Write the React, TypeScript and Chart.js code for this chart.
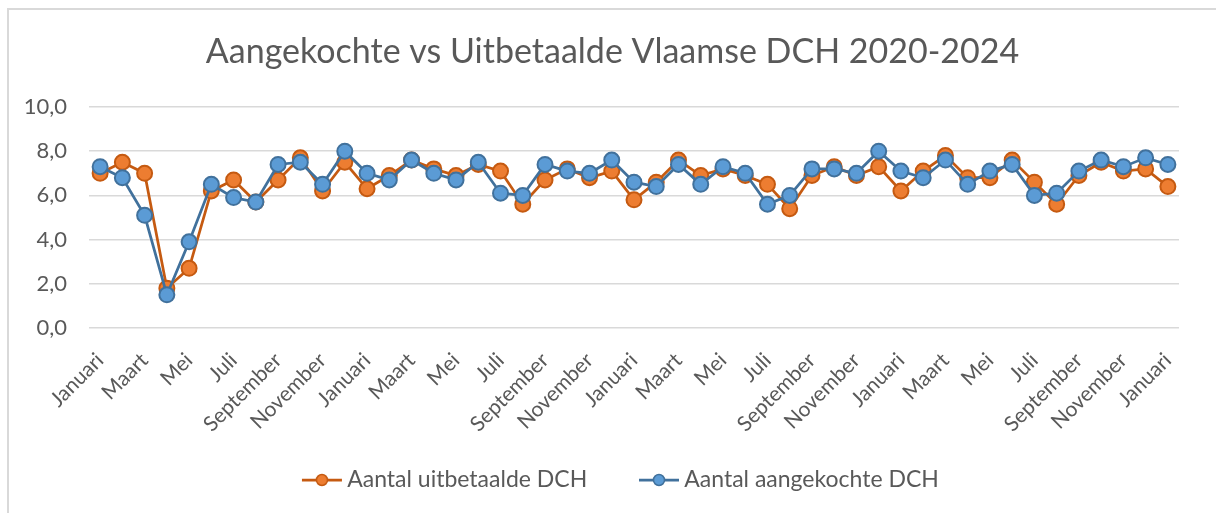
import React, { useEffect, useRef } from "react";
import { Chart, registerables } from "chart.js";

Chart.register(...registerables);

const MONTHS = [
  "Januari", "Februari", "Maart", "April", "Mei", "Juni",
  "Juli", "Augustus", "September", "Oktober", "November", "December",
];

const labels: string[] = [
  ...MONTHS, ...MONTHS, ...MONTHS, ...MONTHS, "Januari",
];

const uitbetaald: number[] = [
  7.0, 7.5, 7.0, 1.8, 2.7, 6.2, 6.7, 5.7, 6.7, 7.7, 6.2, 7.5,
  6.3, 6.9, 7.6, 7.2, 6.9, 7.4, 7.1, 5.6, 6.7, 7.2, 6.8, 7.1,
  5.8, 6.6, 7.6, 6.9, 7.2, 6.9, 6.5, 5.4, 6.9, 7.3, 6.9, 7.3,
  6.2, 7.1, 7.8, 6.8, 6.8, 7.6, 6.6, 5.6, 6.9, 7.5, 7.1, 7.2,
  6.4,
];

const aangekocht: number[] = [
  7.3, 6.8, 5.1, 1.5, 3.9, 6.5, 5.9, 5.7, 7.4, 7.5, 6.5, 8.0,
  7.0, 6.7, 7.6, 7.0, 6.7, 7.5, 6.1, 6.0, 7.4, 7.1, 7.0, 7.6,
  6.6, 6.4, 7.4, 6.5, 7.3, 7.0, 5.6, 6.0, 7.2, 7.2, 7.0, 8.0,
  7.1, 6.8, 7.6, 6.5, 7.1, 7.4, 6.0, 6.1, 7.1, 7.6, 7.3, 7.7,
  7.4,
];

const TITLE = "Aangekochte vs Uitbetaalde Vlaamse DCH 2020-2024";
const SERIES_UIT = "Aantal uitbetaalde DCH";
const SERIES_AAN = "Aantal aangekochte DCH";

const ORANGE_FILL = "#ED7D31";
const ORANGE_LINE = "#C55A11";
const BLUE_FILL = "#5B9BD5";
const BLUE_LINE = "#41719C";
const TEXT = "#595959";
const GRID = "#D9D9D9";
const FONT = "Lato, 'Open Sans', sans-serif";

// legend swatch: 66px wide image, the line+marker occupies x 24..64
function legendImage(line: string, fill: string): HTMLCanvasElement {
  const c = document.createElement("canvas");
  c.width = 66;
  c.height = 16;
  const ctx = c.getContext("2d")!;
  const x0 = 24;
  ctx.strokeStyle = line;
  ctx.lineWidth = 2.75;
  ctx.beginPath();
  ctx.moveTo(x0, 8);
  ctx.lineTo(x0 + 40, 8);
  ctx.stroke();
  ctx.beginPath();
  ctx.arc(x0 + 20, 8, 5.5, 0, Math.PI * 2);
  ctx.fillStyle = fill;
  ctx.fill();
  ctx.lineWidth = 1.5;
  ctx.stroke();
  return c;
}

export default function App() {
  const ref = useRef<HTMLCanvasElement | null>(null);

  useEffect(() => {
    if (!ref.current) return;
    const imgOrange = legendImage(ORANGE_LINE, ORANGE_FILL);
    const imgBlue = legendImage(BLUE_LINE, BLUE_FILL);

    const chart = new Chart(ref.current, {
      type: "line",
      data: {
        labels,
        datasets: [
          {
            label: SERIES_AAN,
            data: aangekocht,
            borderColor: BLUE_LINE,
            backgroundColor: BLUE_FILL,
            pointBackgroundColor: BLUE_FILL,
            pointBorderColor: BLUE_LINE,
            borderWidth: 2.75,
            pointRadius: 7.5,
            pointBorderWidth: 2,
            tension: 0,
          },
          {
            label: SERIES_UIT,
            data: uitbetaald,
            borderColor: ORANGE_LINE,
            backgroundColor: ORANGE_FILL,
            pointBackgroundColor: ORANGE_FILL,
            pointBorderColor: ORANGE_LINE,
            borderWidth: 2.75,
            pointRadius: 7.5,
            pointBorderWidth: 2,
            tension: 0,
          },
        ],
      },
      options: {
        animation: false,
        responsive: true,
        maintainAspectRatio: false,
        layout: { padding: { left: 0, right: 0, top: 0, bottom: 11.5 } },
        plugins: {
          tooltip: { enabled: false },
          title: {
            display: true,
            text: TITLE,
            color: TEXT,
            font: { family: FONT, size: 34, weight: "normal", lineHeight: 1.2 },
            padding: { top: 22, bottom: 34.2 },
          },
          legend: {
            position: "bottom",
            labels: {
              color: TEXT,
              font: { family: FONT, size: 23 },
              usePointStyle: true,
              pointStyleWidth: 49.5,
              boxHeight: 16,
              padding: 36,
              generateLabels: () => [
                {
                  text: SERIES_UIT,
                  pointStyle: imgOrange,
                  fillStyle: ORANGE_FILL,
                  strokeStyle: ORANGE_LINE,
                  lineWidth: 0,
                  hidden: false,
                  datasetIndex: 1,
                  fontColor: TEXT,
                },
                {
                  text: SERIES_AAN,
                  pointStyle: imgBlue,
                  fillStyle: BLUE_FILL,
                  strokeStyle: BLUE_LINE,
                  lineWidth: 0,
                  hidden: false,
                  datasetIndex: 0,
                  fontColor: TEXT,
                },
              ],
            },
          },
        },
        scales: {
          x: {
            offset: true,
            grid: { display: false, drawTicks: false },
            border: { display: false },
            afterFit: (scale: any) => {
              scale.height = 104.5;
              scale._computeLabelArea = () => undefined;
            },
            ticks: {
              autoSkip: false,
              maxRotation: 45,
              minRotation: 45,
              padding: 20,
              color: TEXT,
              font: { family: FONT, size: 21 },
              callback: (_v: any, i: number) => (i % 2 === 0 ? labels[i] : ""),
            },
          },
          y: {
            min: 0,
            max: 10,
            grid: { color: GRID, lineWidth: 1.5, drawTicks: false },
            border: { display: false },
            afterFit: (scale: any) => {
              scale.width = 80;
            },
            ticks: {
              stepSize: 2,
              padding: 22,
              color: TEXT,
              font: { family: FONT, size: 22 },
              callback: (v: any) => Number(v).toFixed(1).replace(".", ","),
            },
          },
          yRightSpace: {
            position: "right",
            display: true,
            min: 0,
            max: 10,
            grid: { display: false, drawTicks: false },
            border: { display: false },
            ticks: { display: false },
            afterFit: (scale: any) => {
              scale.width = 37;
            },
          },
        },
      },
    });
    return () => chart.destroy();
  }, []);

  return (
    <div
      style={{
        position: "fixed",
        left: 7,
        top: 8,
        width: 1209,
        height: 505,
        boxSizing: "border-box",
        borderTop: "2px solid #D9D9D9",
        borderLeft: "2px solid #D9D9D9",
        background: "#fff",
      }}
    >
      <div style={{ position: "relative", width: 1207, height: 503 }}>
        <canvas ref={ref} />
      </div>
    </div>
  );
}
